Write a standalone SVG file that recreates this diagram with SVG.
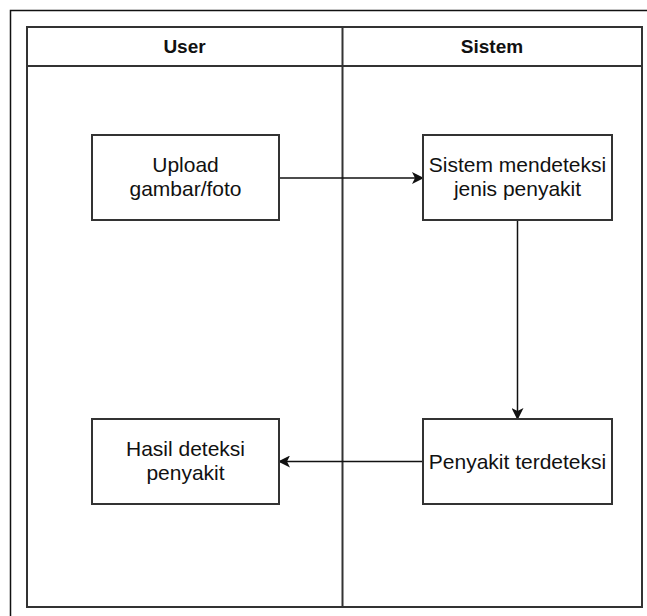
<svg xmlns="http://www.w3.org/2000/svg" width="647" height="616" viewBox="0 0 647 616">
<defs>
<style>
.box{fill:#fff;stroke:#333;stroke-width:2}
.lane{fill:none;stroke:#333;stroke-width:2}
.t{font-family:"Liberation Sans",Arial,sans-serif;font-size:21px;fill:#111;text-anchor:middle}
.h{font-family:"Liberation Sans",Arial,sans-serif;font-size:19px;font-weight:bold;fill:#111;text-anchor:middle}
.c{fill:none;stroke:#111;stroke-width:1.5}
</style>
<marker id="ah" viewBox="0 0 12 12" refX="11" refY="6" markerWidth="12" markerHeight="12" markerUnits="userSpaceOnUse" orient="auto">
<path d="M0,0 L12,6 L0,12 L3,6 Z" fill="#111"/>
</marker>
</defs>
<rect x="0" y="0" width="647" height="616" fill="#fff"/>
<path d="M10.5,616 V10.5 H647" fill="none" stroke="#111" stroke-width="1.5"/>
<g id="pool">
<rect class="lane" x="27" y="27" width="615" height="580"/>
<line class="lane" x1="27" y1="66" x2="642" y2="66"/>
<line class="lane" x1="342.5" y1="27" x2="342.5" y2="607"/>
<text class="h" x="184.5" y="53">User</text>
<text class="h" x="492" y="53">Sistem</text>
</g>
<g id="connectors">
<line class="c" x1="279" y1="178" x2="423" y2="178" marker-end="url(#ah)"/>
<line class="c" x1="517.5" y1="220" x2="517.5" y2="419" marker-end="url(#ah)"/>
<line class="c" x1="423" y1="461.5" x2="279" y2="461.5" marker-end="url(#ah)"/>
</g>
<g id="upload">
<rect class="box" x="92" y="135" width="187" height="85"/>
<text class="t" x="185.5" y="172">Upload</text>
<text class="t" x="185.5" y="196">gambar/foto</text>
</g>
<g id="sistem">
<rect class="box" x="423" y="135" width="189" height="85"/>
<text class="t" x="517.5" y="172">Sistem mendeteksi</text>
<text class="t" x="517.5" y="196">jenis penyakit</text>
</g>
<g id="penyakit">
<rect class="box" x="423" y="419" width="189" height="85"/>
<text class="t" x="517.5" y="469">Penyakit terdeteksi</text>
</g>
<g id="hasil">
<rect class="box" x="92" y="419" width="187" height="85"/>
<text class="t" x="185.5" y="456">Hasil deteksi</text>
<text class="t" x="185.5" y="480">penyakit</text>
</g>
</svg>
